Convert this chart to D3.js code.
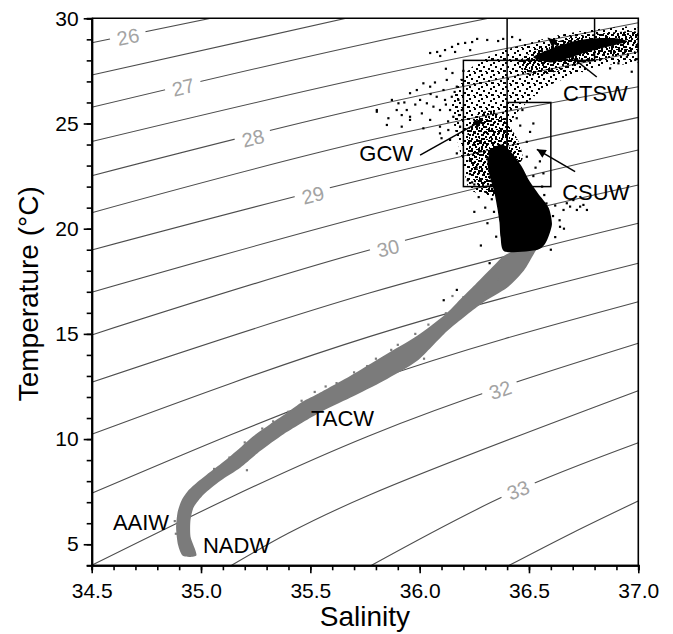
<!DOCTYPE html>
<html>
<head>
<meta charset="utf-8">
<style>
body { margin: 0; background: #fff; }
text { font-family: "Liberation Sans", Arial, Helvetica, sans-serif; }
.tick text { font-size: 21px; fill: #000; }
.iso_label { font-size: 20px; fill: #a3a3a3; }
.wm_label { font-size: 22px; fill: #000; }
.axis_title { font-size: 28px; fill: #000; }
</style>
</head>
<body>
<svg width="673" height="634"></svg>
<script src="https://d3js.org/d3.v7.min.js"></script>
<script>

// axis ticks
var xTicks = [34.5, 35.0, 35.5, 36.0, 36.5, 37.0];
var yTicks = [5, 10, 15, 20, 25, 30];

// sigma contour lines, points as [salinity, temperature]
var isoLevels = [26, 26.5, 27, 27.5, 28, 28.5, 29, 29.5, 30, 30.5, 31, 31.5, 32, 32.5, 33, 33.5];
var isoPoints = [
  [[34.5, 28.84], [35.77, 31.55], [37.0, 34.0]],
  [[34.5, 27.30], [35.77, 30.25], [37.0, 32.9]],
  [[34.5, 25.77], [35.77, 28.83], [37.0, 31.4]],
  [[34.5, 24.14], [35.77, 27.22], [37.0, 29.79]],
  [[34.5, 22.52], [35.77, 25.80], [37.0, 28.40]],
  [[34.5, 20.76], [35.77, 24.20], [37.0, 26.75]],
  [[34.5, 18.99], [35.77, 22.41], [37.0, 25.29]],
  [[34.5, 16.98], [35.77, 20.65], [37.0, 23.74]],
  [[34.5, 14.95], [35.77, 18.99], [37.0, 22.08]],
  [[34.5, 12.70], [35.77, 16.94], [37.0, 20.26]],
  [[34.5, 10.23], [35.77, 14.87], [37.0, 18.36]],
  [[34.5, 7.42], [35.77, 12.73], [37.0, 16.53]],
  [[34.5, 4.0], [35.77, 10.16], [37.0, 14.55]],
  [[35.14, 4.0], [35.77, 7.34], [37.0, 12.30]],
  [[35.78, 4.0], [36.39, 7.3], [37.0, 9.83]],
  [[36.41, 4.0], [36.7, 5.55], [37.0, 7.06]]
];
// labelled contours: [level, salinity, temperature]
var isoLabels = [
  [26, 34.666, 29.13], [27, 34.918, 26.73], [28, 35.238, 24.31], [29, 35.512, 21.60],
  [30, 35.856, 19.08], [32, 36.368, 12.34], [33, 36.45, 7.58]
];

// deep water: dense grey cloud outline [salinity, temperature]
var deepCloud = [
  [34.918, 4.44], [34.895, 4.96], [34.886, 5.77], [34.893, 6.53], [34.911, 7.08], [34.939, 7.52],
  [34.980, 7.92], [35.040, 8.42], [35.110, 8.98], [35.188, 9.67], [35.252, 10.24], [35.316, 10.71],
  [35.385, 11.19], [35.455, 11.72], [35.532, 12.14], [35.682, 13.00], [35.834, 13.95], [35.987, 14.90],
  [36.109, 15.85], [36.170, 16.47], [36.246, 17.26], [36.322, 18.06], [36.383, 18.69], [36.444, 19.01],
  [36.505, 19.09], [36.540, 19.15],
  [36.522, 18.80], [36.476, 18.00], [36.401, 17.20], [36.278, 16.40], [36.126, 15.14], [35.989, 13.72],
  [35.836, 12.77], [35.684, 11.97], [35.531, 11.19], [35.379, 10.24], [35.272, 9.44], [35.181, 8.65],
  [35.089, 8.02], [35.013, 7.38], [34.967, 6.77], [34.952, 6.16], [34.952, 5.36], [34.979, 4.48]
];
var deepDots = [
  [35.20, 9.84], [35.33, 10.84], [35.40, 11.30], [35.46, 11.82], [35.52, 12.24], [35.62, 12.66],
  [35.70, 13.17], [35.80, 13.82], [35.87, 14.24], [35.90, 14.48], [35.98, 15.00], [36.04, 15.44],
  [36.12, 15.98], [36.20, 16.74], [36.15, 16.80], [35.21, 8.52], [35.60, 11.68], [36.02, 13.82],
  [35.06, 8.58], [35.13, 9.12], [35.28, 10.50], [35.57, 12.50], [35.76, 13.47], [34.88, 6.1],
  [34.885, 5.5], [36.30, 16.9], [36.36, 17.6]
];

// upper water: solid black core and the surface (CTSW) core
var upperCore = [
  [36.390, 18.90], [36.370, 19.60], [36.365, 20.30], [36.355, 21.00], [36.340, 21.80], [36.320, 22.50],
  [36.310, 23.20], [36.330, 23.80], [36.380, 24.00], [36.430, 23.50], [36.470, 22.90], [36.500, 22.30],
  [36.540, 21.70], [36.590, 21.00], [36.605, 20.20], [36.580, 19.40], [36.540, 19.00]
];
var surfaceCore = [
  [36.520, 28.15], [36.600, 28.55], [36.700, 28.90], [36.800, 29.05], [36.900, 29.05], [36.950, 28.90],
  [36.880, 28.70], [36.780, 28.45], [36.680, 28.10], [36.600, 27.90]
];
// dense speckled areas
var upperDense = [
  [36.250, 22.30], [36.220, 23.50], [36.220, 24.60], [36.260, 25.40], [36.330, 25.60], [36.400, 25.00],
  [36.450, 24.20], [36.470, 23.30], [36.400, 22.60], [36.330, 21.50]
];
var surfaceDense = [
  [36.450, 27.90], [36.550, 28.60], [36.700, 29.10], [36.850, 29.30], [37.000, 29.35], [37.000, 28.50],
  [36.900, 28.20], [36.750, 27.90], [36.600, 27.40], [36.500, 27.30]
];
// looser spread of upper points (GCW / CTSW area)
var upperSpread = [
  [36.231, 21.84], [36.194, 23.27], [36.162, 24.69], [36.148, 25.88], [36.185, 27.07], [36.267, 27.92],
  [36.368, 28.40], [36.482, 28.78], [36.619, 29.16], [36.779, 29.44], [36.999, 29.54], [36.999, 27.92],
  [36.848, 27.78], [36.711, 27.31], [36.596, 26.83], [36.505, 26.12], [36.437, 25.40], [36.404, 24.45],
  [36.354, 21.84]
];
var upperDots = [
  [36.048, 28.35], [36.080, 28.40], [36.116, 28.49], [36.148, 28.64], [36.176, 28.78], [36.208, 28.83],
  [36.263, 29.02], [36.309, 28.97], [36.359, 28.92], [36.382, 29.02], [36.423, 29.11], [36.459, 28.97],
  [36.240, 28.87], [36.162, 28.40], [36.094, 28.21], [36.231, 28.49],
  [35.804, 25.64], [35.857, 25.25], [35.873, 26.12], [35.903, 25.96], [35.941, 25.64], [35.956, 26.44],
  [35.987, 26.59], [36.002, 26.12], [36.017, 26.91], [36.048, 26.75], [36.063, 25.80], [36.078, 26.27],
  [36.109, 26.59], [36.116, 26.12], [36.124, 27.07], [36.139, 25.64], [36.154, 25.32], [36.170, 26.75],
  [36.177, 26.12], [36.185, 24.85], [36.131, 24.69], [36.093, 24.85], [36.048, 25.17], [35.956, 25.17],
  [35.918, 25.40], [35.895, 25.64], [36.010, 25.48], [36.033, 25.96], [36.093, 25.64], [36.147, 26.27],
  [36.193, 25.64], [36.193, 27.07], [35.850, 24.93], [35.918, 24.85], [35.956, 25.32], [36.017, 24.77],
  [36.093, 24.53], [36.139, 24.22], [36.170, 23.58], [35.804, 25.56], [35.980, 25.90], [36.050, 26.40],
  [36.120, 25.90], [36.160, 26.50], [36.070, 26.95], [35.930, 26.00], [36.130, 25.10], [36.180, 25.40],
  [36.100, 24.30], [36.120, 27.60], [36.150, 27.40], [36.200, 27.50],
  [36.948, 28.17], [36.986, 28.02], [36.909, 27.86], [36.970, 27.46], [36.871, 27.62], [36.940, 28.49],
  [36.993, 28.73], [36.825, 28.02],
  [36.673, 21.21], [36.703, 21.36], [36.734, 21.05], [36.765, 20.89], [36.658, 20.89], [36.719, 20.89],
  [36.749, 21.13], [36.688, 21.05], [36.642, 20.09],
  [36.505, 24.60], [36.490, 24.13], [36.566, 22.63], [36.444, 25.25], [36.490, 23.42], [36.470, 25.64],
  [36.530, 22.90], [36.550, 23.20], [36.460, 24.90], [36.520, 25.00],
  [36.350, 19.62], [36.310, 20.26], [36.320, 18.36], [36.170, 17.09], [36.110, 16.60], [36.280, 19.20],
  [36.250, 20.80], [36.620, 19.60], [36.640, 20.40], [36.600, 19.00], [36.660, 20.00], [36.300, 21.00],
  [36.270, 21.50], [36.240, 22.20], [36.580, 21.20], [36.560, 22.00],
  [36.230, 22.60], [36.260, 22.90], [36.310, 23.30], [36.220, 22.30], [36.250, 22.10],
  [36.340, 20.80], [36.330, 21.40], [36.610, 20.60], [36.620, 21.10], [36.570, 21.60], [36.520, 22.50]
];

// water-mass boxes: [salinity min, salinity max, temperature min, temperature max]
var boxes = [
  [36.2, 36.4, 22, 28],
  [36.4, 36.6, 22, 26],
  [36.4, 36.8, 28, 30]
];
// water-mass names: [text, salinity, temperature, anchor]
var wmLabels = [
  ["GCW", 35.97, 23.22, "end"],
  ["CSUW", 36.652, 21.36, "start"],
  ["CTSW", 36.656, 26.07, "start"],
  ["TACW", 35.503, 10.62, "start"],
  ["AAIW", 34.597, 5.68, "start"],
  ["NADW", 35.009, 4.59, "start"]
];
// arrows: [from salinity, from temperature, to salinity, to temperature]
var arrows = [
  [36.002, 23.50, 36.29, 25.17],
  [36.711, 22.71, 36.536, 23.77],
  [36.81, 27.21, 36.587, 29.06]
];

var svg = d3.select("svg");

var x = d3.scaleLinear().domain([34.5, 37.0]).range([91.7, 638.3]);
var y = d3.scaleLinear().domain([4, 30]).range([565.3, 18.3]);

var defs = svg.append("defs");
defs.append("clipPath").attr("id", "plotclip")
  .append("rect")
    .attr("x", x(34.5)).attr("y", y(30))
    .attr("width", x(37.0) - x(34.5)).attr("height", y(4) - y(30));

function stipple(id, size, spots) {
  var pat = defs.append("pattern")
      .attr("id", id)
      .attr("patternUnits", "userSpaceOnUse")
      .attr("width", size).attr("height", size);
  spots.forEach(function(p) {
    pat.append("rect").attr("x", p[0]).attr("y", p[1]).attr("width", 2).attr("height", 2).attr("fill", "#000");
  });
}
stipple("stipple", 12, [[1, 2], [6, 0], [10, 4], [3, 6], [8, 8], [0, 10], [5, 11], [11, 10]]);
stipple("stippleDense", 10, [[0, 0], [4, 1], [7, 3], [2, 4], [5, 6], [9, 7], [1, 8], [6, 9], [8, 0], [3, 2]]);

defs.append("marker")
    .attr("id", "arrowhead")
    .attr("viewBox", "0 0 10 10")
    .attr("refX", 10).attr("refY", 5)
    .attr("markerUnits", "userSpaceOnUse")
    .attr("markerWidth", 12).attr("markerHeight", 9)
    .attr("orient", "auto")
  .append("path")
    .attr("d", "M0,0L10,5L0,10z")
    .attr("fill", "#000");

var plot = svg.append("g").attr("clip-path", "url(#plotclip)");

// contour lines
var isoLine = d3.line()
    .x(function(d) { return x(d[0]); })
    .y(function(d) { return y(d[1]); })
    .curve(d3.curveNatural);

plot.selectAll(".iso")
  .data(isoPoints)
  .enter().append("path")
    .attr("class", "iso")
    .attr("fill", "none")
    .attr("stroke", "#4d4d4d")
    .attr("stroke-width", 1.1)
    .attr("d", isoLine);

// contour labels with a white gap behind them
isoLabels.forEach(function(lab) {
  var pts = isoPoints[isoLevels.indexOf(lab[0])];
  var i = 0;
  while (i < pts.length - 2 && lab[1] > pts[i + 1][0]) i++;
  var ang = Math.atan2(y(pts[i + 1][1]) - y(pts[i][1]), x(pts[i + 1][0]) - x(pts[i][0])) * 180 / Math.PI;
  var g = plot.append("g")
      .attr("transform", "translate(" + x(lab[1]) + "," + y(lab[2]) + ") rotate(" + ang + ")");
  var rect = g.append("rect").attr("fill", "#fff");
  var t = g.append("text")
      .attr("class", "iso_label")
      .attr("text-anchor", "middle")
      .attr("dy", "0.36em")
      .text(lab[0]);
  var w = t.node().getComputedTextLength();
  rect.attr("x", -w / 2 - 7).attr("y", -9).attr("width", w + 14).attr("height", 18);
});

// water-mass boxes, under the points
plot.selectAll(".wmbox")
  .data(boxes)
  .enter().append("rect")
    .attr("class", "wmbox")
    .attr("x", function(d) { return x(d[0]); })
    .attr("y", function(d) { return y(d[3]); })
    .attr("width", function(d) { return x(d[1]) - x(d[0]); })
    .attr("height", function(d) { return y(d[2]) - y(d[3]); })
    .attr("fill", "none")
    .attr("stroke", "#000")
    .attr("stroke-width", 1.5);

// data clouds
var outline = d3.line()
    .x(function(d) { return x(d[0]); })
    .y(function(d) { return y(d[1]); })
    .curve(d3.curveCardinalClosed.tension(0.3));

plot.append("path").datum(deepCloud)
    .attr("fill", "#7b7b7b")
    .attr("d", outline);

plot.selectAll(".ddot")
  .data(deepDots)
  .enter().append("rect")
    .attr("class", "ddot")
    .attr("x", function(d) { return x(d[0]) - 1.1; })
    .attr("y", function(d) { return y(d[1]) - 1.1; })
    .attr("width", 2.2).attr("height", 2.2)
    .attr("fill", "#7b7b7b");

plot.append("path").datum(upperSpread)
    .attr("fill", "url(#stipple)")
    .attr("d", outline);

plot.append("path").datum(upperDense)
    .attr("fill", "url(#stippleDense)")
    .attr("d", outline);

plot.append("path").datum(surfaceDense)
    .attr("fill", "url(#stippleDense)")
    .attr("d", outline);

plot.append("path").datum(upperCore)
    .attr("fill", "#000")
    .attr("d", outline);

plot.append("path").datum(surfaceCore)
    .attr("fill", "#000")
    .attr("d", outline);

plot.selectAll(".udot")
  .data(upperDots)
  .enter().append("rect")
    .attr("class", "udot")
    .attr("x", function(d) { return x(d[0]) - 1.1; })
    .attr("y", function(d) { return y(d[1]) - 1.1; })
    .attr("width", 2.2).attr("height", 2.2)
    .attr("fill", "#000");

// arrows
svg.selectAll(".arrow")
  .data(arrows)
  .enter().append("line")
    .attr("class", "arrow")
    .attr("x1", function(d) { return x(d[0]); })
    .attr("y1", function(d) { return y(d[1]); })
    .attr("x2", function(d) { return x(d[2]); })
    .attr("y2", function(d) { return y(d[3]); })
    .attr("stroke", "#000")
    .attr("stroke-width", 1.5)
    .attr("marker-end", "url(#arrowhead)");

svg.selectAll(".wm_label")
  .data(wmLabels)
  .enter().append("text")
    .attr("class", "wm_label")
    .attr("x", function(d) { return x(d[1]); })
    .attr("y", function(d) { return y(d[2]); })
    .attr("text-anchor", function(d) { return d[3]; })
    .text(function(d) { return d[0]; });

// axes
var xMinor = svg.append("g")
    .attr("transform", "translate(0," + y(4) + ")")
    .call(d3.axisBottom(x).tickValues(x.ticks(25)).tickSize(5).tickFormat(""));
var yMinor = svg.append("g")
    .attr("transform", "translate(" + x(34.5) + ",0)")
    .call(d3.axisLeft(y).tickValues(y.ticks(26)).tickSize(5).tickFormat(""));

var xAxis = svg.append("g")
    .attr("transform", "translate(0," + y(4) + ")")
    .call(d3.axisBottom(x).tickValues(xTicks).tickFormat(d3.format(".1f")).tickSize(8).tickPadding(10).tickSizeOuter(0));
var yAxis = svg.append("g")
    .attr("transform", "translate(" + x(34.5) + ",0)")
    .call(d3.axisLeft(y).tickValues(yTicks).tickSize(8).tickPadding(5).tickSizeOuter(0));

[xMinor, yMinor, xAxis, yAxis].forEach(function(a) {
  a.attr("font-family", null).attr("font-size", null);
  a.selectAll(".tick line").attr("stroke", "#000").attr("stroke-width", 1.6);
  a.select(".domain").attr("stroke", "#000").attr("stroke-width", 2);
});

// top and right frame
svg.append("path")
    .attr("d", "M" + x(34.5) + "," + y(30) + "H" + x(37.0) + "V" + y(4))
    .attr("fill", "none")
    .attr("stroke", "#000")
    .attr("stroke-width", 1.6);

svg.append("text")
    .attr("class", "axis_title")
    .attr("x", (x(34.5) + x(37.0)) / 2)
    .attr("y", 626)
    .attr("text-anchor", "middle")
    .text("Salinity");

svg.append("text")
    .attr("class", "axis_title")
    .attr("transform", "translate(38," + (y(17) + 2) + ") rotate(-90)")
    .attr("text-anchor", "middle")
    .text("Temperature (°C)");

</script>
</body>
</html>
